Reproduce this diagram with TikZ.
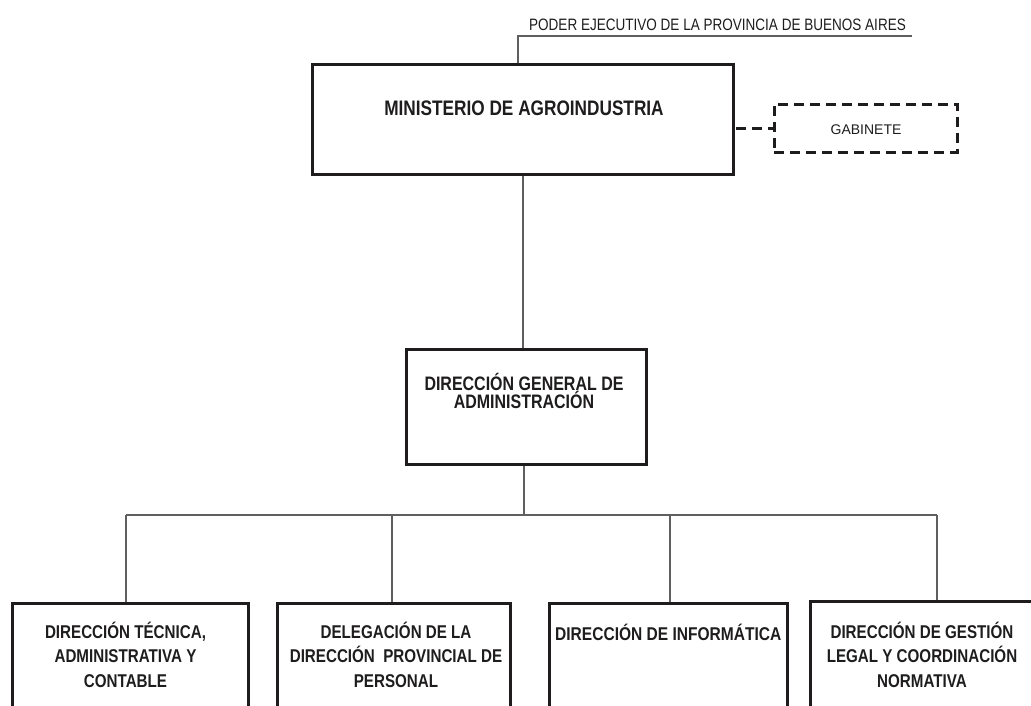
\documentclass[tikz,border=0pt]{standalone}
\usepackage{fontspec}
\setmainfont{Liberation Sans}
\newfontfamily\narrowfont[FakeStretch=0.82]{Liberation Sans}
\newfontfamily\infofont[FakeStretch=0.84]{Liberation Sans}
\definecolor{boxline}{RGB}{30,28,28}
\definecolor{conn}{RGB}{95,95,95}
\tikzset{
  orgbox/.style={draw=boxline, line width=3pt, fill=none, inner sep=0pt},
  gabbox/.style={draw=boxline, line width=3pt, dash pattern=on 10pt off 6pt, inner sep=0pt},
  conline/.style={draw=conn, line width=1.2pt},
  dashline/.style={draw=boxline, line width=3pt, dash pattern=on 10pt off 6pt},
  boldtxt/.style={font=\narrowfont\bfseries\fontsize{18.5}{24.5}\selectfont, align=center, inner sep=0pt, text=boxline},
}
\begin{document}
\begin{tikzpicture}[x=1pt,y=-1pt]
\useasboundingbox (0,0) rectangle (1031,705);
\clip (0,0) rectangle (1031,705);
% boxes
\node[orgbox, minimum width=421pt, minimum height=110pt] (min) at (522.5,119.5) {};
\node[gabbox, minimum width=183pt, minimum height=48pt] (gab) at (865.5,128) {};
\node[orgbox, minimum width=240pt, minimum height=115pt] (dga) at (526,406.5) {};
\node[orgbox, anchor=north, minimum width=236pt, minimum height=150pt] (b1) at (130,602) {};
\node[orgbox, anchor=north, minimum width=233pt, minimum height=150pt] (b2) at (393.5,602) {};
\node[orgbox, anchor=north, minimum width=238pt, minimum height=150pt] (b3) at (668,602) {};
\node[orgbox, anchor=north west, minimum width=240pt, minimum height=150pt] (b4) at (809,600) {};
% texts
\node[anchor=base, inner sep=0pt, text=boxline, font=\narrowfont\fontsize{16.5}{18}\selectfont] (poder) at (717.5,30) {PODER EJECUTIVO DE LA PROVINCIA DE BUENOS AIRES};
\node[anchor=base, inner sep=0pt, text=boxline, font=\narrowfont\bfseries\fontsize{21}{24}\selectfont] (tmin) at (524,115) {MINISTERIO DE AGROINDUSTRIA};
\node[anchor=base, inner sep=0pt, text=boxline, font=\fontsize{14}{16}\selectfont] (tgab) at (866,134) {GABINETE};
\node[boldtxt, font=\narrowfont\bfseries\fontsize{19.5}{18}\selectfont, anchor=base] (tdga) at (524,408) {DIRECCIÓN GENERAL DE\\ADMINISTRACIÓN};
\node[boldtxt, anchor=base] (t1) at (125.5,687) {DIRECCIÓN TÉCNICA,\\ADMINISTRATIVA Y\\CONTABLE};
\node[boldtxt, anchor=base] (t2) at (396,687) {DELEGACIÓN DE LA\\DIRECCIÓN\ \ PROVINCIAL DE\\PERSONAL};
\node[boldtxt, font=\infofont\bfseries\fontsize{18.5}{24.5}\selectfont, anchor=base west] (t3) at (555,640) {DIRECCIÓN DE INFORMÁTICA};
\node[boldtxt, anchor=base] (t4) at (922,687) {DIRECCIÓN DE GESTIÓN\\LEGAL Y COORDINACIÓN\\NORMATIVA};
% connectors
\coordinate (pcorner) at (518,36);
\coordinate (pend) at (912,36);
\draw[conline] (min.north -| pcorner) -- (pcorner) -- (pend);
\draw[dashline] (min.east |- gab.west) ++(1.5,0) -- (gab.west);
\draw[conline] (min.south -| 523,0) -- (dga.north -| 523,0);
\coordinate (bus) at (524,515);
\draw[conline] (dga.south -| bus) -- (bus);
\coordinate (busL) at (126,515);
\coordinate (busR) at (937,515);
\draw[conline] (busL) -- (busR);
\draw[conline] (busL) -- (b1.north -| busL);
\draw[conline] (bus -| 392,0) -- (b2.north -| 392,0);
\draw[conline] (bus -| 670,0) -- (b3.north -| 670,0);
\draw[conline] (busR) -- (b4.north -| busR);
\end{tikzpicture}
\end{document}
